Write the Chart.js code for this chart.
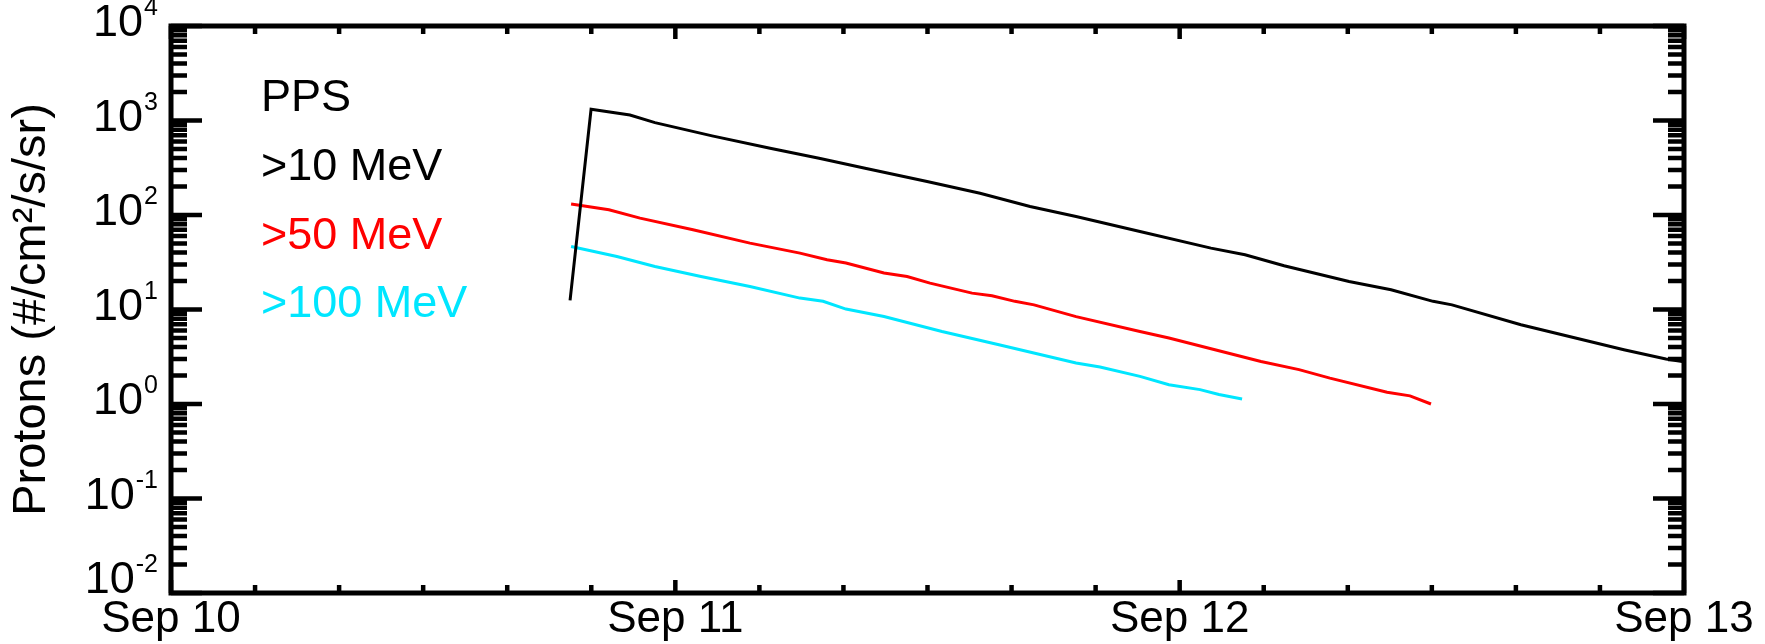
<!DOCTYPE html>
<html>
<head>
<meta charset="utf-8">
<title>PPS protons</title>
<script src="https://cdn.jsdelivr.net/npm/chart.js@4.4.1/dist/chart.umd.min.js"></script>
<style>
  html, body { margin: 0; padding: 0; background: #fff; }
  #wrap { width: 1765px; height: 644px; position: relative; }
</style>
</head>
<body>
<div id="wrap"><canvas id="protonChart"></canvas></div>
<script>
// hours since Sep 10 00:00 UT, fluxes in #/cm2/s/sr
const hours10 = [18.99, 19.99, 21.84, 23.03, 25.75, 28.51, 30.84, 33.03, 35.98, 38.50, 40.88, 43.07, 46.11,
  49.49, 51.11, 52.97, 56.06, 58.06, 60.06, 60.96, 64.24, 69.14, 71.14, 72.0];
const flux10 = [12.5, 1316, 1145, 950, 687, 509, 399, 313, 226, 170, 123, 96.3, 66.8,
  44.6, 37.9, 29.0, 19.8, 16.2, 12.2, 11.2, 6.9, 3.75, 2.99, 2.8];

const hours50 = [19.04, 20.84, 22.32, 24.84, 27.55, 29.93, 31.22, 32.12, 33.93, 35.03, 36.12, 38.12, 39.07,
  40.16, 41.07, 43.07, 46.11, 47.49, 49.68, 51.87, 53.68, 55.15, 57.87, 58.96, 59.96];
const flux50 = [131, 113.5, 92.7, 69.7, 50.4, 39.5, 33.6, 31.0, 24.3, 22.3, 19.0, 14.9, 14.0,
  12.2, 11.2, 8.4, 5.86, 4.99, 3.75, 2.82, 2.31, 1.88, 1.33, 1.22, 1.0];

const hours100 = [19.04, 21.22, 23.03, 25.22, 27.55, 29.93, 31.03, 32.12, 33.93, 36.69, 39.40, 43.07, 44.21,
  46.11, 47.49, 48.97, 49.87, 50.97];
const flux100 = [46.4, 36.4, 28.5, 22.3, 17.5, 13.2, 12.2, 10.1, 8.44, 5.86, 4.24, 2.72, 2.46,
  1.96, 1.60, 1.42, 1.26, 1.13];

const seriesNames = ['>10 MeV', '>50 MeV', '>100 MeV'];
const seriesColors = ['#000000', '#ff0000', '#00e6ff'];
const legendTitle = 'PPS';
const dayLabels = ['Sep 10', 'Sep 11', 'Sep 12', 'Sep 13'];
const decades = [-2, -1, 0, 1, 2, 3, 4];

const FONT = '"Liberation Sans", Arial, Helvetica, sans-serif';

function points(xs, ys) {
  return xs.map((h, i) => ({x: h, y: ys[i]}));
}

// box, inward ticks, y labels with superscripts and the text legend
const framePlugin = {
  id: 'framePlugin',
  afterDatasetsDraw(chart) {
    const {ctx, chartArea: a, scales: {x, y}} = chart;
    ctx.save();
    ctx.strokeStyle = '#000';
    ctx.lineCap = 'butt';

    ctx.lineWidth = 4.5;
    ctx.beginPath();
    decades.forEach(e => {
      for (let m = 1; m <= 9; m++) {
        if (e === 4 && m > 1) break;
        const py = y.getPixelForValue(m * Math.pow(10, e));
        const len = m === 1 ? 31 : 16;
        ctx.moveTo(a.left, py); ctx.lineTo(a.left + len, py);
        ctx.moveTo(a.right, py); ctx.lineTo(a.right - len, py);
      }
    });
    for (let h = 0; h <= 72; h += 4) {
      const px = x.getPixelForValue(h);
      const len = h % 24 === 0 ? 13 : 8;
      ctx.moveTo(px, a.bottom); ctx.lineTo(px, a.bottom - len);
      ctx.moveTo(px, a.top); ctx.lineTo(px, a.top + len);
    }
    ctx.stroke();

    ctx.lineWidth = 5;
    ctx.strokeRect(a.left, a.top, a.right - a.left, a.bottom - a.top);

    // y tick labels 10^n
    ctx.fillStyle = '#000';
    ctx.textAlign = 'left';
    ctx.textBaseline = 'alphabetic';
    const rightEdge = a.left - 13;
    decades.forEach(e => {
      const py = y.getPixelForValue(Math.pow(10, e));
      const base = e === decades[0] ? a.bottom : py + 10;
      const sup = String(e);
      ctx.font = '25px ' + FONT;
      const ws = ctx.measureText(sup).width;
      ctx.font = '45px ' + FONT;
      const wm = ctx.measureText('10').width;
      ctx.fillText('10', rightEdge - ws - 1 - wm, base);
      ctx.font = '25px ' + FONT;
      ctx.fillText(sup, rightEdge - ws, base - 21);
    });

    // legend as coloured text lines
    ctx.font = '45px ' + FONT;
    const lx = 261;
    ctx.fillStyle = '#000';
    ctx.fillText(legendTitle, lx, 111);
    chart.data.datasets.forEach((ds, i) => {
      ctx.fillStyle = ds.borderColor;
      ctx.fillText(ds.label, lx, 180 + i * 68.5);
    });
    ctx.restore();
  }
};

const ctx = document.getElementById('protonChart').getContext('2d');
const protonChart = new Chart(ctx, {
  type: 'line',
  data: {
    datasets: [
      {label: seriesNames[0], data: points(hours10, flux10), borderColor: seriesColors[0]},
      {label: seriesNames[1], data: points(hours50, flux50), borderColor: seriesColors[1]},
      {label: seriesNames[2], data: points(hours100, flux100), borderColor: seriesColors[2]}
    ]
  },
  options: {
    responsive: true,
    maintainAspectRatio: false,
    animation: false,
    parsing: false,
    layout: {padding: {left: 0, top: 26, right: 81, bottom: 0}},
    elements: {
      line: {borderWidth: 3, tension: 0, fill: false},
      point: {radius: 0, hoverRadius: 0}
    },
    plugins: {
      legend: {display: false},
      tooltip: {enabled: false}
    },
    scales: {
      x: {
        type: 'linear',
        min: 0,
        max: 72,
        position: 'bottom',
        grid: {display: false, drawTicks: false},
        border: {display: false},
        ticks: {
          stepSize: 24,
          autoSkip: false,
          maxRotation: 0,
          padding: 0,
          color: '#000',
          font: {family: FONT, size: 44},
          callback: v => dayLabels[v / 24] || ''
        },
        afterFit: s => { s.height = 51; }
      },
      y: {
        type: 'logarithmic',
        min: 0.01,
        max: 10000,
        grid: {display: false, drawTicks: false},
        border: {display: false},
        ticks: {display: false},
        title: {
          display: true,
          text: 'Protons (#/cm²/s/sr)',
          color: '#000',
          font: {family: FONT, size: 47, weight: 'normal'},
          padding: {top: 4, bottom: 0}
        },
        afterFit: s => { s.width = 171; }
      }
    }
  },
  plugins: [framePlugin]
});
</script>
</body>
</html>
